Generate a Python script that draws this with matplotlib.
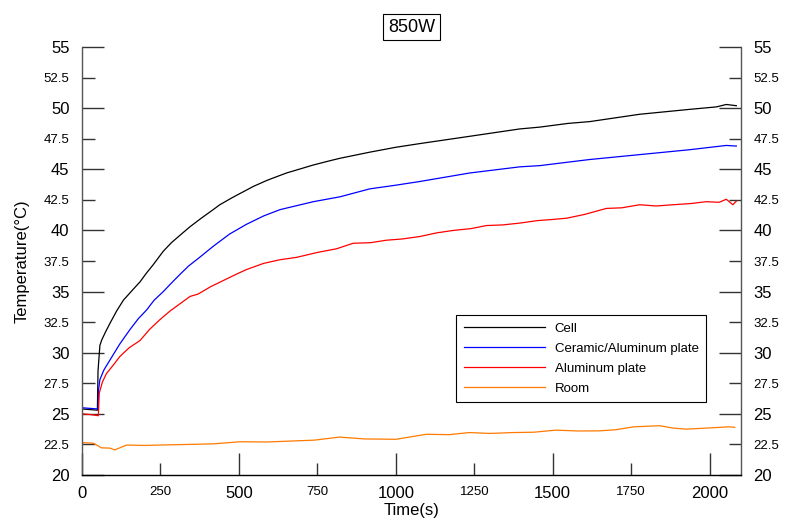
import matplotlib
matplotlib.use("Agg")
import matplotlib.pyplot as plt
from matplotlib.ticker import MultipleLocator, FormatStrFormatter

plt.rcParams['font.family'] = ['Liberation Sans', 'DejaVu Sans']

# readings from the reference (time in s, temperature in degC)
t_cell = [0, 25, 49, 51, 57, 63, 75, 89, 110, 132, 160, 185, 205, 227, 259, 285, 312, 344, 380, 418, 439,
          480, 524, 546, 590, 631, 652, 737, 790, 822, 917, 1000, 1076, 1236, 1395, 1459, 1548,
          1618, 1777, 1936, 2021, 2053, 2085]
cell = [25.4, 25.35, 25.3, 28.5, 30.6, 31.05, 31.7, 32.4, 33.4, 34.3, 35.1, 35.8, 36.5, 37.2, 38.3, 39.0, 39.6, 40.3, 41.0, 41.7, 42.1,
        42.7, 43.3, 43.6, 44.1, 44.5, 44.7, 45.35, 45.7, 45.9, 46.4, 46.8, 47.1, 47.7, 48.3, 48.45, 48.75,
        48.9, 49.5, 49.9, 50.1, 50.3, 50.2]

t_ceramic = [0, 25, 51, 53, 57, 70, 89, 120, 153, 180, 206, 230, 259, 285, 312, 340, 370, 418, 470, 524, 580, 631, 737,
             822, 917, 1000, 1076, 1236, 1395, 1459, 1554, 1618, 1777, 1936, 2053, 2085]
ceramic = [25.5, 25.45, 25.4, 27.0, 27.8, 28.6, 29.4, 30.7, 31.9, 32.8, 33.5, 34.3, 35.0, 35.7, 36.4, 37.1, 37.7, 38.7, 39.7, 40.5, 41.2, 41.7, 42.35,
           42.75, 43.4, 43.7, 44.0, 44.7, 45.2, 45.3, 45.6, 45.8, 46.2, 46.6, 46.95, 46.9]

t_aluminum = [0, 25, 52, 55, 65, 78, 100, 121, 150, 185, 215, 248, 280, 312, 344, 370, 410, 450, 490, 524, 578, 630, 684,
              750, 811, 864, 920, 970, 1020, 1076, 1130, 1183, 1240, 1289, 1340, 1395, 1450, 1501, 1544, 1600, 1671, 1720, 1777, 1830, 1883,
              1940, 1989, 2030, 2053, 2074, 2085]
aluminum = [25.0, 24.95, 24.85, 26.7, 27.6, 28.3, 29.0, 29.7, 30.4, 31.0, 31.9, 32.7, 33.4, 34.0, 34.6, 34.8, 35.4, 35.9, 36.4, 36.8, 37.3, 37.6, 37.8,
            38.2, 38.5, 38.95, 39.0, 39.2, 39.3, 39.5, 39.8, 40.0, 40.15, 40.4, 40.45, 40.6, 40.8, 40.9, 41.0, 41.3, 41.8, 41.85, 42.1, 42.0, 42.1,
            42.2, 42.35, 42.3, 42.55, 42.1, 42.4]

t_room = [0, 7, 36, 57, 62, 89, 104, 142, 200, 248, 338, 420, 504, 590, 669,
          740, 821, 900, 1000, 1097, 1170, 1234, 1300, 1372, 1440, 1510, 1580,
          1648, 1700, 1758, 1841, 1880, 1924, 2000, 2062, 2080]
room = [22.65, 22.64, 22.6, 22.3, 22.22, 22.2, 22.05, 22.45, 22.42, 22.45, 22.5, 22.55, 22.72, 22.7, 22.78,
        22.85, 23.1, 22.95, 22.92, 23.33, 23.3, 23.47, 23.4, 23.47, 23.5, 23.67, 23.6,
        23.61, 23.7, 23.94, 24.03, 23.85, 23.75, 23.85, 23.94, 23.9]

fig = plt.figure(figsize=(7.87, 5.24), dpi=100)
ax = fig.add_axes([0.1042, 0.0935, 0.8374, 0.8168])

ax.plot(t_cell, cell, color='black', lw=0.9, label='Cell')
ax.plot(t_ceramic, ceramic, color='#0000ff', lw=0.9, label='Ceramic/Aluminum plate')
ax.plot(t_aluminum, aluminum, color='#ff0000', lw=0.9, label='Aluminum plate')
ax.plot(t_room, room, color='#ff7a00', lw=0.9, label='Room')

ax.set_xlim(0, 2100)
ax.set_ylim(20, 55)
ax.xaxis.set_major_locator(MultipleLocator(500))
ax.xaxis.set_minor_locator(MultipleLocator(250))
ax.yaxis.set_major_locator(MultipleLocator(5))
ax.yaxis.set_minor_locator(MultipleLocator(2.5))
ax.xaxis.set_minor_formatter(FormatStrFormatter('%d'))
ax.yaxis.set_major_formatter(FormatStrFormatter('%g'))
ax.yaxis.set_minor_formatter(FormatStrFormatter('%g'))

ax.spines['top'].set_visible(False)
for s in ['left', 'right', 'bottom']:
    ax.spines[s].set_linewidth(1.0)
ax.spines['left'].set_color('#555555')
ax.spines['right'].set_color('#555555')

ax.tick_params(which='both', direction='in', right=True, labelright=True, top=False,
               color='#333333', width=1.0)
ax.tick_params(which='major', length=16, labelsize=12, pad=9)
ax.tick_params(which='minor', length=9, labelsize=9.5, pad=9)
ax.tick_params(axis='x', which='both', pad=8)

ax.set_xlabel('Time(s)', fontsize=12, labelpad=1)
ax.set_ylabel('Temperature(°C)', fontsize=12, labelpad=10)

ax.set_title('850W', fontsize=13, pad=11,
             bbox=dict(boxstyle='square,pad=0.25', fc='white', ec='black', lw=0.8))

leg = ax.legend(loc='lower left', bbox_to_anchor=(0.568, 0.17), fontsize=9.5,
                handlelength=6.2, handletextpad=0.7, fancybox=False, edgecolor='black',
                framealpha=1, borderpad=0.55, labelspacing=0.6, borderaxespad=0)
leg.get_frame().set_linewidth(0.8)

fig.savefig('out.png', dpi=100)
